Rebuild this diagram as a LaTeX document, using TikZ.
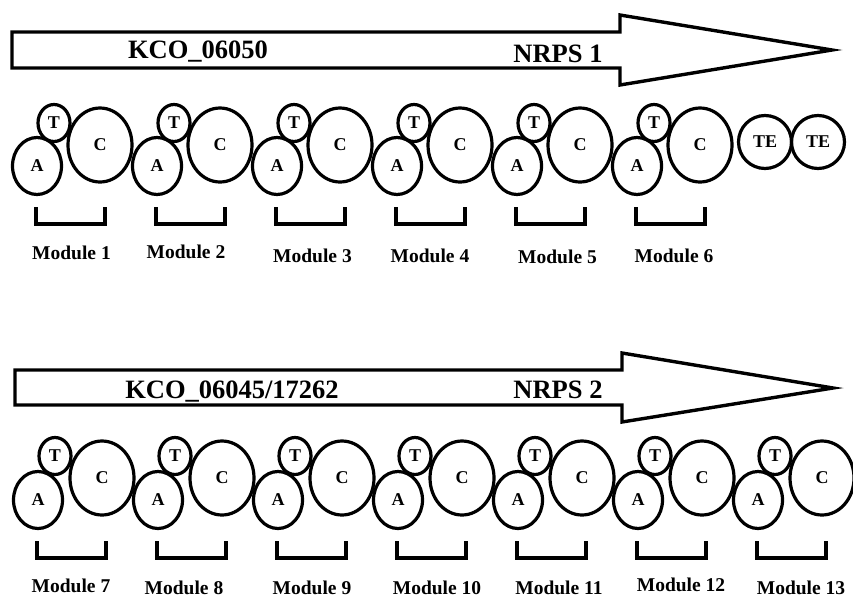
\documentclass[tikz,border=0pt]{standalone}
\usepackage{fontspec}
\setmainfont{Liberation Serif}
\usetikzlibrary{shapes.geometric}
\tikzset{
  dom/.style={draw, ellipse, inner sep=0pt, line width=3.2pt, font=\bfseries\fontsize{18}{18}\selectfont},
  adom/.style={dom, minimum width=49pt, minimum height=57pt},
  tdom/.style={dom, minimum width=32pt, minimum height=37pt},
  cdom/.style={dom, minimum width=64pt, minimum height=74pt},
  tedom/.style={dom, minimum width=53pt, minimum height=53pt},
  gene/.style={draw, line width=3.4pt, line join=miter},
  genelabel/.style={anchor=base, inner sep=0pt, font=\bfseries\fontsize{26.5}{26.5}\selectfont},
  modlabel/.style={anchor=base, inner sep=0pt, font=\bfseries\fontsize{19.5}{19.5}\selectfont},
  bracket/.style={draw, line width=3.6pt, line join=miter}
}
\begin{document}
\begin{tikzpicture}[x=1pt,y=-1pt]
\useasboundingbox (0,0) rectangle (853,597);

% ---- Gene arrows ----
\draw[gene] (12,32) -- (620,32) -- (620,15) -- (832,50) -- (620,85) -- (620,68) -- (12,68) -- cycle;
\node[genelabel] (g1) at (198,58) {KCO\_06050};
\node[genelabel] (n1) at (558,62) {NRPS 1};

\draw[gene] (15,370) -- (622,370) -- (622,353) -- (833,388) -- (622,422) -- (622,405) -- (15,405) -- cycle;
\node[genelabel] (g2) at (232,398) {KCO\_06045/17262};
\node[genelabel] (n2) at (558,398) {NRPS 2};

% ---- Row 1 domains ----
\foreach \k in {0,...,5}{
  \pgfmathsetmacro{\ax}{37+120*\k}
  \node[adom] (a1\k) at (\ax,166) {A};
  \node[tdom] (t1\k) at (\ax+17,123) {T};
  \node[cdom] (c1\k) at (\ax+63,145) {C};
  \draw[bracket] (\ax-1,207) -- (\ax-1,224) -- (\ax+68,224) -- (\ax+68,207);
}
\node[tedom] (te1) at (765,142) {TE};
\node[tedom] (te2) at (818,142) {TE};

% ---- Row 2 domains ----
\foreach \k in {0,...,6}{
  \pgfmathsetmacro{\ax}{38+120*\k}
  \node[adom] (a2\k) at (\ax,500) {A};
  \node[tdom] (t2\k) at (\ax+17,456) {T};
  \node[cdom] (c2\k) at (\ax+64,478) {C};
  \draw[bracket] (\ax-1,541) -- (\ax-1,558) -- (\ax+68,558) -- (\ax+68,541);
}

% ---- Module labels ----
\node[modlabel] (m1) at (71.5,259) {Module 1};
\node[modlabel] (m2) at (186,258) {Module 2};
\node[modlabel] (m3) at (312.5,262) {Module 3};
\node[modlabel] (m4) at (430,262) {Module 4};
\node[modlabel] (m5) at (557.5,263) {Module 5};
\node[modlabel] (m6) at (674,262) {Module 6};

\node[modlabel] (m7) at (71,592) {Module 7};
\node[modlabel] (m8) at (184,594) {Module 8};
\node[modlabel] (m9) at (312,594) {Module 9};
\node[modlabel] (m10) at (437,594) {Module 10};
\node[modlabel] (m11) at (559,594) {Module 11};
\node[modlabel] (m12) at (681,591) {Module 12};
\node[modlabel] (m13) at (801,594) {Module 13};
\end{tikzpicture}
\end{document}
